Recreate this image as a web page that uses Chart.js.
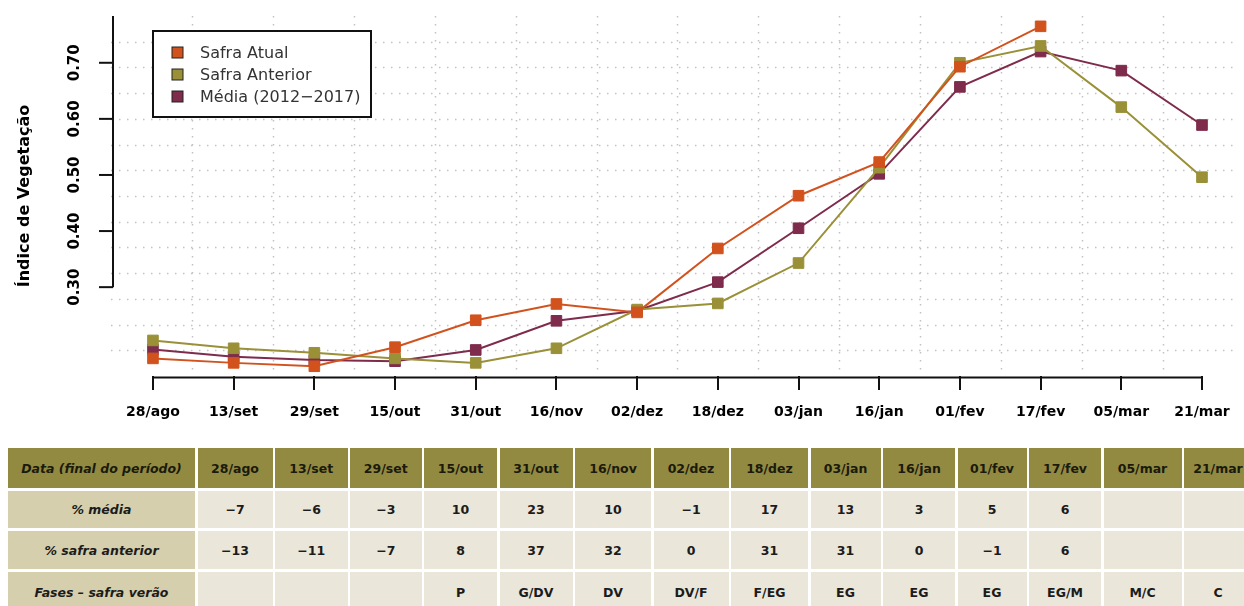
<!DOCTYPE html>
<html lang="pt">
<head>
<meta charset="UTF-8">
<title>Índice de Vegetação</title>
<script src="https://cdn.jsdelivr.net/npm/chart.js@4.4.1/dist/chart.umd.min.js"></script>
<style>
  html, body { margin: 0; padding: 0; background: #fff; }
  body { width: 1244px; height: 606px; position: relative; overflow: hidden; font-family: 'DejaVu Sans', sans-serif; }
  #chartBox { position: absolute; left: 0; top: 0; width: 1244px; height: 440px; }
  #tabela {
    position: absolute; left: 8px; top: 448px;
    display: grid; column-gap: 2.5px; row-gap: 3px;
    grid-template-rows: 40px 37px 38px 40px;
  }
  .cell {
    display: flex; align-items: center; justify-content: center;
    font-size: 12.5px; font-weight: bold; color: #1b1b1b;
    background: #eae6d9; white-space: nowrap; overflow: hidden;
  }
  .lab { background: #d5cfae; font-style: italic; }
  .hd { background: #938a42; color: #1a1a0c; }
</style>
</head>
<body>
<div id="chartBox"><canvas id="ndvi"></canvas></div>
<div id="tabela"></div>

<script>
// --- dados ---
const datas = ['28/ago','13/set','29/set','15/out','31/out','16/nov','02/dez','18/dez','03/jan','16/jan','01/fev','17/fev','05/mar','21/mar'];
const safraAtual    = [0.173, 0.165, 0.159, 0.193, 0.241, 0.270, 0.255, 0.369, 0.463, 0.523, 0.693, 0.765, null, null];
const safraAnterior = [0.205, 0.191, 0.183, 0.173, 0.165, 0.191, 0.260, 0.271, 0.343, 0.513, 0.700, 0.730, 0.621, 0.496];
const media         = [0.189, 0.176, 0.170, 0.168, 0.188, 0.240, 0.258, 0.309, 0.405, 0.502, 0.657, 0.720, 0.686, 0.589];
const yTicks = [0.3, 0.4, 0.5, 0.6, 0.7];

const rowLabels   = ['Data (final do período)', '% média', '% safra anterior', 'Fases – safra verão'];
const pctMedia    = ['−7','−6','−3','10','23','10','−1','17','13','3','5','6','',''];
const pctAnterior = ['−13','−11','−7','8','37','32','0','31','31','0','−1','6','',''];
const fases       = ['','','','P','G/DV','DV','DV/F','F/EG','EG','EG','EG','EG/M','M/C','C'];

// --- estilo ---
const cores = { atual: '#d2521e', anterior: '#9a9038', media: '#7e2b4c' };
const colW = [187, 75, 72.5, 71.5, 73, 73, 76, 75, 77, 70, 72, 69, 72, 78, 68];
const X_MIN = -0.52, X_MAX = 13.396;   // 4% de folga à esquerda, como no R
const Y_MIN = 0.1416, Y_MAX = 0.7834;

const pts = arr => arr.map((v, i) => ({ x: i, y: v }));

function serie(label, arr, cor) {
    return {
        label: label, data: pts(arr),
        borderColor: cor, backgroundColor: cor,
        borderWidth: 2, tension: 0, spanGaps: false,
        pointStyle: 'rect', pointRadius: 7.5,
        pointBackgroundColor: cor, pointBorderColor: cor, pointBorderWidth: 1
    };
}

// grade pontilhada, eixos estilo R, rótulos rotacionados e legenda
const estiloR = {
    id: 'estiloR',
    beforeDatasetsDraw(chart) {
        const { ctx, chartArea: a, scales: { x, y } } = chart;
        ctx.save();
        ctx.strokeStyle = '#c2c2c2';
        ctx.lineWidth = 1.5;
        ctx.setLineDash([1.5, 6.5]);
        const xSpan = 13 + 2 * 0.52;
        for (let k = 1; k <= 13; k++) {
            const px = Math.round(x.getPixelForValue(X_MIN + k * xSpan / 14)) + 0.5;
            ctx.beginPath(); ctx.moveTo(px, a.top); ctx.lineTo(px, a.bottom - 4); ctx.stroke();
            const py = Math.round(y.getPixelForValue(Y_MIN + k * (Y_MAX - Y_MIN) / 14)) + 0.5;
            ctx.beginPath(); ctx.moveTo(a.left, py); ctx.lineTo(a.right, py); ctx.stroke();
        }
        ctx.restore();
    },
    afterDraw(chart) {
        const { ctx, chartArea: a, scales: { x, y } } = chart;
        ctx.save();
        ctx.strokeStyle = '#111';
        ctx.fillStyle = '#000';
        ctx.lineWidth = 2;

        // eixo y
        const ax = a.left + 2;
        ctx.beginPath();
        ctx.moveTo(ax, y.getPixelForValue(yTicks[0]));
        ctx.lineTo(ax, a.top);
        ctx.stroke();
        ctx.font = 'bold 15px "DejaVu Sans"';
        ctx.textAlign = 'center';
        ctx.textBaseline = 'middle';
        yTicks.forEach(t => {
            const py = y.getPixelForValue(t);
            ctx.beginPath(); ctx.moveTo(ax - 14, py); ctx.lineTo(ax, py); ctx.stroke();
            ctx.save();
            ctx.translate(75, py);
            ctx.rotate(-Math.PI / 2);
            ctx.fillText(t.toFixed(2), 0, 0);
            ctx.restore();
        });
        ctx.save();
        ctx.font = 'bold 16px "DejaVu Sans"';
        ctx.translate(25, (a.top + a.bottom) / 2);
        ctx.rotate(-Math.PI / 2);
        ctx.fillText('Índice de Vegetação', 0, 0);
        ctx.restore();

        // eixo x (só entre o primeiro e o último tick)
        const by = a.bottom + 1.5;
        ctx.beginPath();
        ctx.moveTo(x.getPixelForValue(0), by);
        ctx.lineTo(x.getPixelForValue(datas.length - 1), by);
        ctx.stroke();

        // legenda
        const lx = Math.round(x.getPixelForValue(0)), ly = a.top + 15;
        ctx.lineWidth = 2;
        ctx.strokeStyle = '#111';
        ctx.fillStyle = '#fff';
        ctx.fillRect(lx, ly, 218, 86);
        ctx.strokeRect(lx, ly, 218, 86);
        ctx.font = '16px "DejaVu Sans"';
        ctx.textAlign = 'left';
        chart.data.datasets.forEach((ds, i) => {
            const cy = ly + 21.5 + 22 * i;
            ctx.fillStyle = ds.borderColor;
            ctx.fillRect(lx + 19, cy - 5.5, 11, 11);
            ctx.lineWidth = 1;
            ctx.strokeStyle = '#222';
            ctx.strokeRect(lx + 19, cy - 5.5, 11, 11);
            ctx.fillStyle = '#333';
            ctx.fillText(ds.label, lx + 47, cy + 1);
        });
        ctx.restore();
    }
};

new Chart(document.getElementById('ndvi'), {
    type: 'line',
    data: {
        datasets: [
            serie('Safra Atual', safraAtual, cores.atual),
            serie('Safra Anterior', safraAnterior, cores.anterior),
            serie('Média (2012−2017)', media, cores.media)
        ]
    },
    options: {
        responsive: true,
        maintainAspectRatio: false,
        animation: false,
        layout: { padding: { left: 111, top: 16, right: 0, bottom: 0 } },
        plugins: { legend: { display: false }, tooltip: { enabled: false } },
        scales: {
            x: {
                type: 'linear', min: X_MIN, max: X_MAX,
                afterBuildTicks: s => { s.ticks = datas.map((d, i) => ({ value: i })); },
                afterFit: s => { s.height = 64; },
                border: { display: false },
                grid: { drawOnChartArea: false, drawTicks: true, tickLength: 14, color: '#111', lineWidth: 2 },
                ticks: {
                    autoSkip: false, maxRotation: 0, minRotation: 0, padding: 14,
                    color: '#000',
                    font: { family: 'DejaVu Sans', weight: 'bold', size: 14 },
                    callback: v => datas[v] ?? ''
                }
            },
            y: { display: false, min: Y_MIN, max: Y_MAX }
        }
    },
    plugins: [estiloR]
});

// --- tabela ---
const tab = document.getElementById('tabela');
tab.style.gridTemplateColumns = colW.map(w => w + 'px').join(' ');
[datas, pctMedia, pctAnterior, fases].forEach((row, r) => {
    const c0 = document.createElement('div');
    c0.className = 'cell lab' + (r === 0 ? ' hd' : '');
    c0.textContent = rowLabels[r];
    tab.appendChild(c0);
    row.forEach(v => {
        const c = document.createElement('div');
        c.className = 'cell' + (r === 0 ? ' hd' : '');
        c.textContent = v;
        tab.appendChild(c);
    });
});
</script>
</body>
</html>
